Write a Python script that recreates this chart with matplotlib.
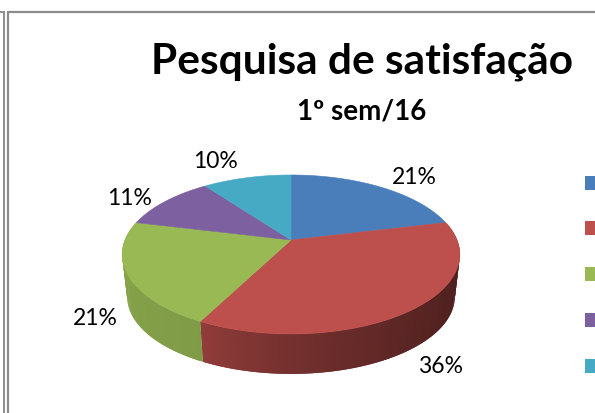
import numpy as np
import matplotlib
matplotlib.use('Agg')
import matplotlib.pyplot as plt
from matplotlib.patches import Polygon, Rectangle

plt.rcParams['font.family'] = ['Lato', 'DejaVu Sans']

# 数据
TITLE = 'Pesquisa de satisfação'
SUBTITLE = '1º sem/16'
VALUES = [21, 36, 21, 11, 10]
COLORS = ['#4a7ebb', '#bd4f4c', '#98b954', '#7d60a0', '#46aac5']

# 标签位置 (像素)
LABEL_POS = [(414, 178), (441, 367), (95, 319), (130, 199), (215, 162)]
LEGEND_Y = [184, 229, 275, 321, 367]

# 透视椭圆参数
CX, K, A = 291, 0.182, 166
DEPTH_SCALE, DEPTH_SHIFT = 0.97, 50


def top_xy(theta):
    """圆盘角度(从正上方顺时针)映射到屏幕坐标, 带透视"""
    s, c = np.sin(theta), np.cos(theta)
    w = 1 + K * c
    return CX + A * s / w, (241 - 33 * c) / w


def bottom_xy(theta):
    x, y = top_xy(theta)
    return CX + (x - CX) * DEPTH_SCALE, y * DEPTH_SCALE + DEPTH_SHIFT


def shade(color, f):
    rgb = np.array(matplotlib.colors.to_rgb(color))
    return tuple(rgb * f)


fig = plt.figure(figsize=(5.95, 4.14), dpi=100)
ax = fig.add_axes([0, 0, 1, 1])
ax.set_xlim(0, 595)
ax.set_ylim(414, 0)
ax.axis('off')

# 外框
ax.plot([8, 8, 595], [414, 12.5, 12.5], color='#8c8c8c', lw=1.6, solid_joinstyle='miter')
ax.plot([0, 3.5, 3.5], [12.5, 12.5, 414], color='#8c8c8c', lw=1.4, solid_joinstyle='miter')

fracs = np.array(VALUES) / sum(VALUES)
edges = np.concatenate([[0], np.cumsum(fracs)]) * 2 * np.pi

# 侧面: 只画朝前的部分, 红色渐变变暗 (分段互相重叠, 避免接缝)
side_shades = {1: (0.40, 0.76, 2.2), 2: (0.84, 0.90, 1.0)}
for i, (f0, f1, power) in side_shades.items():
    ts = np.linspace(edges[i], edges[i + 1], 90)
    for j in range(len(ts) - 1):
        t0, t1 = ts[j], ts[min(j + 2, len(ts) - 1)]
        f = f0 + (f1 - f0) * (j / (len(ts) - 2)) ** power
        pts = [top_xy(t0), top_xy(t1), bottom_xy(t1), bottom_xy(t0)]
        ax.add_patch(Polygon(pts, closed=True, fc=shade(COLORS[i], f), ec='none', zorder=2))

# 顶面
apex = (CX, 241)
for i, col in enumerate(COLORS):
    ts = np.linspace(edges[i], edges[i + 1], 80)
    xs, ys = top_xy(ts)
    pts = [apex] + list(zip(xs, ys))
    ax.add_patch(Polygon(pts, closed=True, fc=col, ec=col, lw=0.4, zorder=3))

# 文字
ax.text(362, 62, TITLE, fontsize=30.5, fontweight='bold', ha='center', va='center', color='black')
ax.text(362, 112, SUBTITLE, fontsize=20, fontweight='bold', ha='center', va='center', color='black')
for v, (x, y) in zip(VALUES, LABEL_POS):
    ax.text(x, y, f'{v}%', fontsize=16.5, ha='center', va='center', color='black', zorder=5)

# 图例色块 (文字被裁掉)
for col, y in zip(COLORS, LEGEND_Y):
    ax.add_patch(Rectangle((585, y - 7), 14, 14, fc=col, ec='none', zorder=3))

fig.savefig('out.png', dpi=100)
